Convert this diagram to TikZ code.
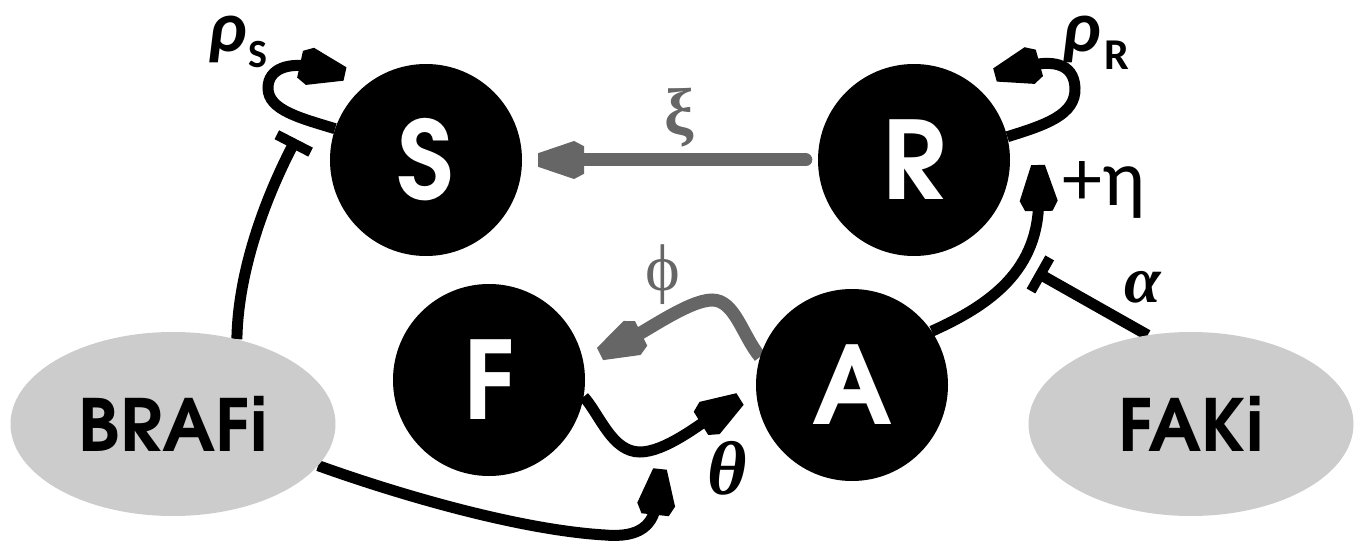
\documentclass[tikz,border=0pt]{standalone}
\usepackage{fontspec}
\usetikzlibrary{arrows.meta,shapes.geometric}
\newfontfamily\geo{texgyreadventor}[Extension=.otf,UprightFont=*-regular,BoldFont=*-bold]
\newfontfamily\calf{Carlito}
\newfontfamily\lser{Liberation Serif}
\definecolor{lgray}{HTML}{CCCCCC}
\definecolor{dgray}{HTML}{666666}
\pgfdeclarelayer{background}
\pgfsetlayers{background,main}
\pgfdeclarearrow{
  name = Hex,
  parameters = {\the\pgfarrowlength,\the\pgfarrowwidth},
  setup code = {
    \pgfarrowssettipend{0pt}
    \pgfarrowssetbackend{-\pgfarrowlength}
    \pgfarrowssetlineend{-0.7\pgfarrowlength}
    \pgfarrowssavethe\pgfarrowlength
    \pgfarrowssavethe\pgfarrowwidth
  },
  drawing code = {
    \pgfpathmoveto{\pgfqpoint{0pt}{0.18\pgfarrowwidth}}
    \pgfpathlineto{\pgfqpoint{-0.78\pgfarrowlength}{0.5\pgfarrowwidth}}
    \pgfpathlineto{\pgfqpoint{-\pgfarrowlength}{0.36\pgfarrowwidth}}
    \pgfpathlineto{\pgfqpoint{-\pgfarrowlength}{-0.36\pgfarrowwidth}}
    \pgfpathlineto{\pgfqpoint{-0.78\pgfarrowlength}{-0.5\pgfarrowwidth}}
    \pgfpathlineto{\pgfqpoint{0pt}{-0.18\pgfarrowwidth}}
    \pgfpathclose
    \pgfusepathqfill
  },
  defaults = {length=46pt, width=38pt}
}
\tikzset{
  circ/.style={circle, fill=black, minimum size=192pt, inner sep=0pt, text=white,
    font=\geo\bfseries\fontsize{108}{108}\selectfont},
  drug/.style={ellipse, fill=lgray, minimum width=325pt, minimum height=184pt, inner sep=0pt,
    font=\geo\bfseries\fontsize{72}{72}\selectfont},
  act/.style={line width=11pt, -{Hex}},
  inh/.style={line width=11pt, -{Rectangle[length=10pt,width=38pt]}},
  gact/.style={line width=13pt, draw=dgray, -{Hex}},
  lbl/.style={inner sep=0pt},
}
\begin{document}
\begin{tikzpicture}[x=1pt,y=-1pt]
\useasboundingbox (0,0) rectangle (1360,548);
\node[circ] (S) at (426,160) {S};
\node[circ] (R) at (914,160) {R};
\node[circ] (F) at (489,380) {F};
\node[circ] (A) at (852,385) {A};
\node[drug] (BRAFi) at (173,424) {BRAFi};
\node[drug] (FAKi) at (1191,424) {FAKi};
\coordinate (rsTip) at (345,74);
\coordinate (rrTip) at (995,75);
\coordinate (sBar) at (296,139);
\coordinate (etaTip) at (1038,165);
\coordinate (aBar) at (1036,272);
\coordinate (phiTip) at (600,354);
\coordinate (thTip) at (740,399);
\coordinate (bTip) at (660,469);
\begin{pgfonlayer}{background}
\draw[act] (S.161) .. controls (300,118) and (268,110) .. (268,88) .. controls (268,68) and (290,62) .. (rsTip);
\draw[act] (R.14) .. controls (1045,125) and (1076,115) .. (1075,88) .. controls (1074,62) and (1050,60) .. (rrTip);
\draw[inh] (BRAFi.53) .. controls (238,275) and (262,205) .. (sBar);
\draw[gact, line cap=round, shorten <=12pt, shorten >=16pt] (R.west) -- (S.east);
\draw[act] (A.34) .. controls (990,305) and (1040,270) .. (etaTip);
\draw[inh] (FAKi.116) -- (aBar);
\draw[gact] (A.163) .. controls (742,335) and (735,300) .. (712,300) .. controls (690,300) and (648,330) .. (phiTip);
\draw[act] (F.350) .. controls (600,415) and (612,452) .. (640,452) .. controls (665,452) and (700,424) .. (thTip);
\draw[act] (BRAFi.344) .. controls (400,495) and (520,530) .. (605,535) .. controls (640,538) and (654,525) .. (bTip);
\end{pgfonlayer}
\node[lbl, anchor=base west] (rhoS) at (208,52) {{\calf\bfseries\itshape\fontsize{72}{72}\selectfont ρ}\kern2pt\raisebox{-16pt}{\calf\bfseries\fontsize{40}{40}\selectfont S}};
\node[lbl, anchor=base west] (rhoR) at (1062,52) {{\calf\bfseries\itshape\fontsize{72}{72}\selectfont ρ}\kern4pt\raisebox{-18pt}{\calf\bfseries\fontsize{44}{44}\selectfont R}};
\node[lbl, text=dgray, font=\lser\bfseries\fontsize{66}{66}\selectfont] (xi) at (679,118) {ξ};
\node[lbl, text=dgray, font=\lser\fontsize{66}{66}\selectfont] (phi) at (663,275) {ϕ};
\node[lbl, font=\lser\bfseries\itshape\fontsize{76}{76}\selectfont] (theta) at (727,468) {θ};
\node[lbl, font=\lser\bfseries\itshape\fontsize{66}{66}\selectfont] (alpha) at (1143,287) {α};
\node[lbl, anchor=base west, font=\calf\fontsize{80}{80}\selectfont] (eta) at (1062,206) {+η};
\end{tikzpicture}
\end{document}
